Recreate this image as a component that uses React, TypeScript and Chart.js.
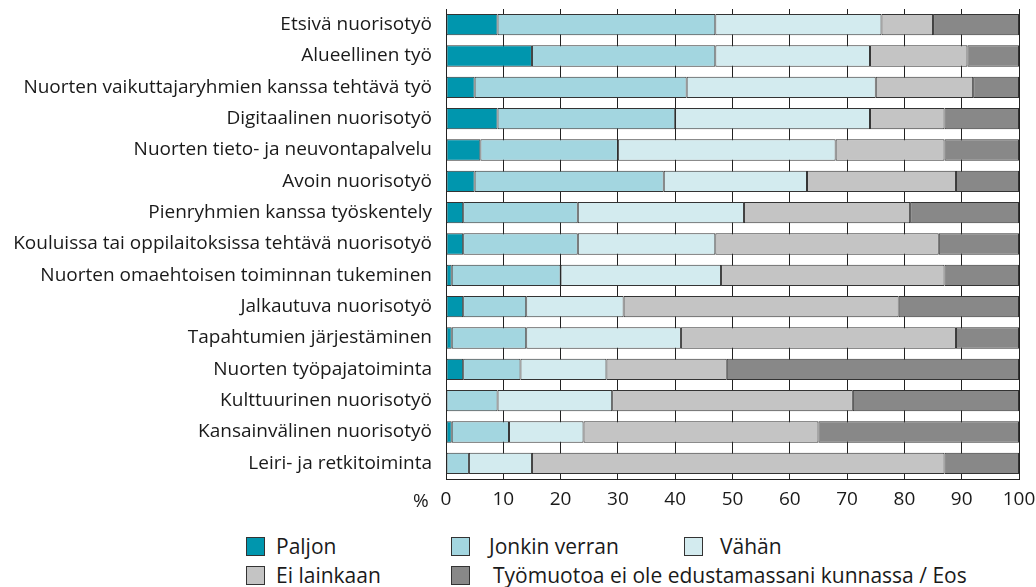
import React, { useEffect, useRef } from "react";
import { Chart, registerables } from "chart.js";

Chart.register(...registerables);

const categories = [
  "Etsivä nuorisotyö",
  "Alueellinen työ",
  "Nuorten vaikuttajaryhmien kanssa tehtävä työ",
  "Digitaalinen nuorisotyö",
  "Nuorten tieto- ja neuvontapalvelu",
  "Avoin nuorisotyö",
  "Pienryhmien kanssa työskentely",
  "Kouluissa tai oppilaitoksissa tehtävä nuorisotyö",
  "Nuorten omaehtoisen toiminnan tukeminen",
  "Jalkautuva nuorisotyö",
  "Tapahtumien järjestäminen",
  "Nuorten työpajatoiminta",
  "Kulttuurinen nuorisotyö",
  "Kansainvälinen nuorisotyö",
  "Leiri- ja retkitoiminta",
];

const paljon = [9, 15, 5, 9, 6, 5, 3, 3, 1, 3, 1, 3, 0, 1, 0];
const jonkinVerran = [38, 32, 37, 31, 24, 33, 20, 20, 19, 11, 13, 10, 9, 10, 4];
const vahan = [29, 27, 33, 34, 38, 25, 29, 24, 28, 17, 27, 15, 20, 13, 11];
const eiLainkaan = [9, 17, 17, 13, 19, 26, 29, 39, 39, 48, 48, 21, 42, 41, 72];
const eiEdustettu = [15, 9, 8, 13, 13, 11, 19, 14, 13, 21, 11, 51, 29, 35, 13];

const seriesNames = [
  "Paljon",
  "Jonkin verran",
  "Vähän",
  "Ei lainkaan",
  "Työmuotoa ei ole edustamassani kunnassa / Eos",
];
const seriesColors = ["#0096AE", "#A3D6E0", "#D3EBEF", "#C4C4C4", "#888888"];
const seriesData = [paljon, jonkinVerran, vahan, eiLainkaan, eiEdustettu];

const FONT = "'Open Sans', 'Noto Sans', sans-serif";
const FSIZE = 19;
const LEGEND_FSIZE = 21;
const TEXT = "#1a1a1a";

export default function App() {
  const ref = useRef<HTMLCanvasElement | null>(null);

  useEffect(() => {
    if (!ref.current) return;
    const chart = new Chart(ref.current, {
      type: "bar",
      data: {
        labels: categories,
        datasets: seriesData.map((d, i) => ({
          label: seriesNames[i],
          data: d,
          backgroundColor: seriesColors[i],
          borderColor: "#333333",
          borderWidth: 1,
          borderSkipped: false,
          barPercentage: 0.68,
          categoryPercentage: 1,
        })),
      },
      options: {
        indexAxis: "y",
        animation: false,
        responsive: true,
        maintainAspectRatio: false,
        layout: { padding: { top: 1, right: 17, bottom: 0, left: 0 } },
        plugins: {
          legend: { display: false },
          tooltip: { enabled: false },
        },
        scales: {
          x: {
            stacked: true,
            min: 0,
            max: 100,
            ticks: {
              stepSize: 10,
              padding: 9,
              color: TEXT,
              maxRotation: 0,
              font: { family: FONT, size: FSIZE },
            },
            grid: {
              color: "#222222",
              lineWidth: 1,
              drawTicks: false,
              tickLength: 0,
            },
            border: { display: true, color: "#222222", width: 1 },
            afterFit: (s: any) => {
              s.height = 40;
              s.paddingLeft = 0;
              s.paddingRight = 0;
            },
          },
          y: {
            stacked: true,
            ticks: {
              padding: 14,
              color: TEXT,
              autoSkip: false,
              font: { family: FONT, size: FSIZE },
            },
            grid: { display: false, drawTicks: false, tickLength: 0 },
            border: { display: false },
            afterFit: (s: any) => {
              s.width = 438;
              s.paddingTop = 0;
              s.paddingBottom = 0;
            },
          },
        },
      },
    });
    return () => chart.destroy();
  }, []);

  const legendItem = (i: number, boxLeft: number, textLeft: number, center: number) => (
    <React.Fragment key={i}>
      <div
        style={{
          position: "absolute",
          left: boxLeft,
          top: center - 9,
          width: 19,
          height: 19,
          background: seriesColors[i],
          border: "1px solid #333",
          boxSizing: "border-box",
        }}
      />
      <div
        style={{
          position: "absolute",
          left: textLeft,
          top: center - 14,
          height: 28,
          lineHeight: "28px",
          fontFamily: FONT,
          fontSize: LEGEND_FSIZE,
          color: TEXT,
          whiteSpace: "nowrap",
        }}
      >
        {seriesNames[i]}
      </div>
    </React.Fragment>
  );

  return (
    <div
      style={{
        position: "fixed",
        left: 0,
        top: 0,
        width: 1036,
        height: 587,
        overflow: "hidden",
        background: "#ffffff",
      }}
    >
      <div style={{ position: "absolute", left: 8, top: 8, width: 1028, height: 511 }}>
        <canvas ref={ref} />
      </div>
      <div
        style={{
          position: "absolute",
          left: 413,
          top: 487,
          fontFamily: FONT,
          fontSize: FSIZE,
          color: TEXT,
          lineHeight: "26px",
        }}
      >
        %
      </div>
      {legendItem(0, 246, 276, 546)}
      {legendItem(1, 451, 489, 546)}
      {legendItem(2, 684, 720, 546)}
      {legendItem(3, 246, 276, 575)}
      {legendItem(4, 451, 493, 575)}
    </div>
  );
}
